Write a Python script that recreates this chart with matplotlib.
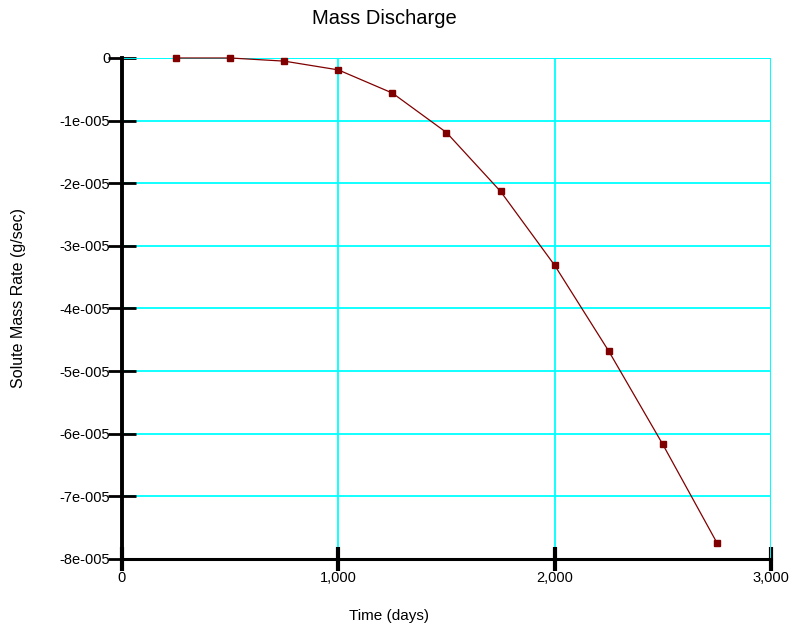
import matplotlib.pyplot as plt
from matplotlib.ticker import FuncFormatter

plt.rcParams['font.family'] = ['Liberation Sans', 'DejaVu Sans']

time_days = [250, 500, 750, 1000, 1250, 1500, 1750, 2000, 2250, 2500, 2750]
mass_rate = [0.0, 0.0, -0.05e-5, -0.19e-5, -0.56e-5, -1.19e-5, -2.13e-5,
             -3.31e-5, -4.68e-5, -6.17e-5, -7.74e-5]

y_ticks = [0, -1e-5, -2e-5, -3e-5, -4e-5, -5e-5, -6e-5, -7e-5, -8e-5]
y_tick_labels = ['0', '-1e-005', '-2e-005', '-3e-005', '-4e-005',
                 '-5e-005', '-6e-005', '-7e-005', '-8e-005']
x_ticks = [0, 1000, 2000, 3000]

fig = plt.figure(figsize=(7.9, 6.29), dpi=100)
ax = fig.add_axes([0.1544, 0.1113, 0.8215, 0.7965])

ax.plot(time_days, mass_rate, color='#800000', linewidth=0.9,
        marker='s', markersize=5, zorder=5, clip_on=False)

ax.set_xlim(0, 3000)
ax.set_ylim(-8e-5, 0)
ax.set_xticks(x_ticks)
ax.xaxis.set_major_formatter(FuncFormatter(lambda v, p: f'{int(v):,}'))
ax.set_yticks(y_ticks)
ax.set_yticklabels(y_tick_labels)

ax.grid(True, color='#00FFFF', linewidth=1.3)
ax.set_axisbelow(True)

for s in ['top', 'right']:
    ax.spines[s].set_visible(False)
ax.spines['left'].set_linewidth(2.8)
ax.spines['bottom'].set_linewidth(2.2)

ax.tick_params(axis='y', direction='inout', length=20, width=2.0,
               labelsize=10.5, pad=-1.5)
ax.tick_params(axis='x', direction='inout', length=17, width=3,
               labelsize=10.5, pad=0)

# cyan borders at the top and right
ax.axhline(0, color='#00FFFF', linewidth=1.3, zorder=1)
ax.axvline(3000, color='#00FFFF', linewidth=1.3, zorder=1)

fig.text(0.487, 0.97, 'Mass Discharge', ha='center', va='center', fontsize=14.5)
fig.text(0.493, 0.021, 'Time (days)', ha='center', va='center', fontsize=11)
fig.text(0.023, 0.526, 'Solute Mass Rate (g/sec)', ha='center', va='center',
         rotation=90, fontsize=11.5)

fig.savefig('out.png', dpi=100)
